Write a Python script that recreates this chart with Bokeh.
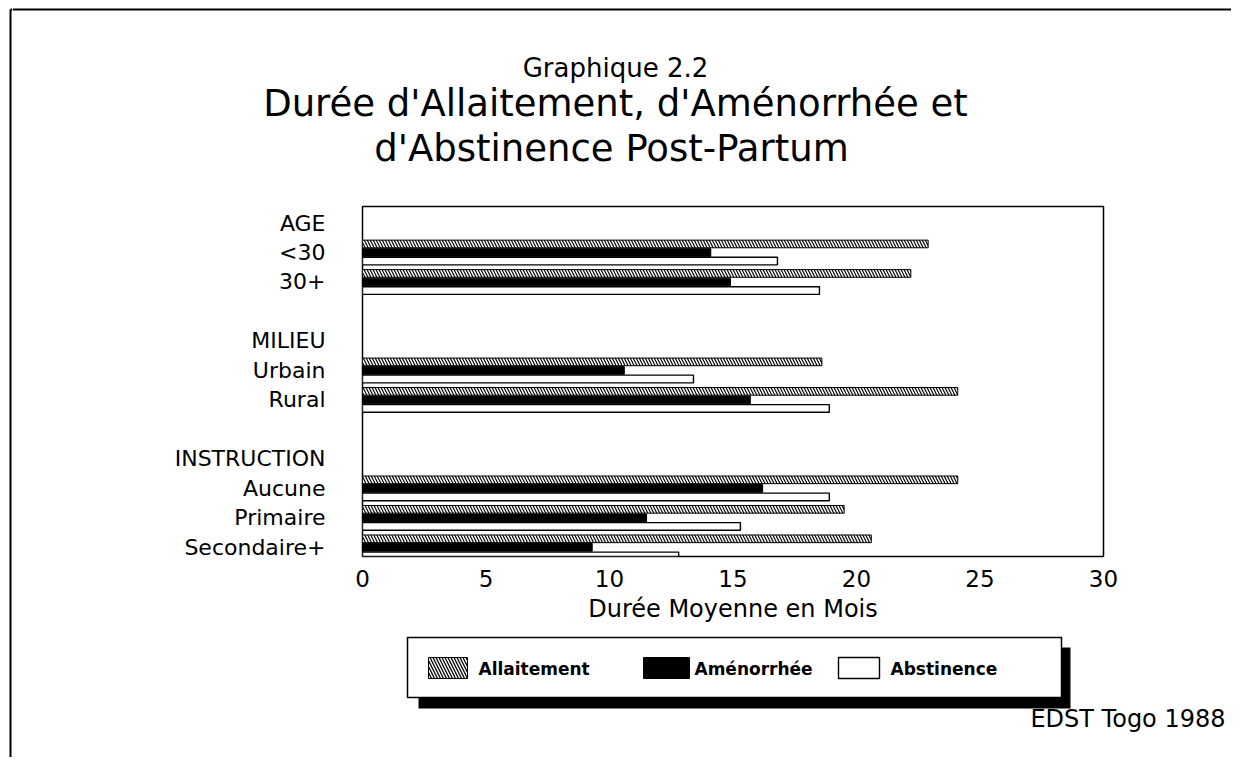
from bokeh.plotting import figure
from bokeh.models import ColumnDataSource, Range1d, FixedTicker, Plot
from bokeh.layouts import row, column
from bokeh.core.properties import value
from bokeh.embed import file_html
from bokeh.resources import INLINE

# ---- data ----
group_labels = ["AGE", "MILIEU", "INSTRUCTION"]
group_slots = [0, 4, 8]
categories = ["<30", "30+", "Urbain", "Rural", "Aucune", "Primaire", "Secondaire+"]
cat_slots = [1, 2, 5, 6, 9, 10, 11]
allaitement = [22.9, 22.2, 18.6, 24.1, 24.1, 19.5, 20.6]
amenorrhee = [14.1, 14.9, 10.6, 15.7, 16.2, 11.5, 9.3]
abstinence = [16.8, 18.5, 13.4, 18.9, 18.9, 15.3, 12.8]
series_names = ["Allaitement", "Aménorrhée", "Abstinence"]
x_ticks = [0, 5, 10, 15, 20, 25, 30]
title_lines = ["Graphique 2.2", "Durée d'Allaitement, d'Aménorrhée et", "d'Abstinence Post-Partum"]
source_note = "EDST Togo 1988"

FONT = "DejaVu Sans"
TOTAL_W, TOTAL_H = 1231, 757
STRIP_W = 12
CW = TOTAL_W - STRIP_W          # width of the column figures
T_H = 200                       # top (title) figure height
M_H = 430                       # main figure height
B_H = TOTAL_H - T_H - M_H       # bottom (legend) figure height
HAS_FA = "frame_align" in Plot.properties()


def noalign(f):
    if HAS_FA:
        f.frame_align = False
    return f


def blank_fig(w, h):
    f = figure(width=w, height=h, x_range=Range1d(0, w), y_range=Range1d(h, 0),
               x_axis_type=None, y_axis_type=None, min_border=0,
               output_backend="svg", toolbar_location=None)
    f.outline_line_color = None
    f.background_fill_color = "white"
    f.border_fill_color = "white"
    return noalign(f)


# ---- left strip with the outer border line ----
strip = blank_fig(STRIP_W, TOTAL_H)
strip.segment(x0=[10, 10], y0=[9, 9], x1=[10, STRIP_W], y1=[TOTAL_H, 9],
              line_color="black", line_width=2)

# ---- top: outer border + titles ----
top = blank_fig(CW, T_H)
top.segment(x0=[0], y0=[9], x1=[CW + 5], y1=[9], line_color="black", line_width=2)
top.text(x=[603], y=[67], text=[title_lines[0]], text_font=value(FONT),
         text_font_size="26px", text_align="center", text_baseline="middle", text_color="black")
top.text(x=[603, 599], y=[103, 148], text=title_lines[1:], text_font=value(FONT),
         text_font_size="37px", text_align="center", text_baseline="middle", text_color="black")

# ---- main chart ----
p = figure(width=CW, height=M_H, x_range=Range1d(0, 30), y_range=Range1d(-11.31, 0.56),
           output_backend="svg", toolbar_location=None,
           min_border_left=350, min_border_right=128, min_border_top=6, min_border_bottom=74)
noalign(p)
p.background_fill_color = "white"
p.border_fill_color = "white"
p.outline_line_color = "black"
p.outline_line_width = 1.5
p.xgrid.visible = False
p.ygrid.visible = False

off, hgt = 0.29, 0.26
src = ColumnDataSource(dict(
    ya=[-s + off for s in cat_slots],
    yb=[-s for s in cat_slots],
    yc=[-s - off for s in cat_slots],
    allaitement=allaitement, amenorrhee=amenorrhee, abstinence=abstinence))

p.hbar(y="ya", left=0, right="allaitement", height=hgt, source=src,
       fill_color="white", line_color="black", line_width=1,
       hatch_pattern="\\", hatch_color="black", hatch_scale=6, hatch_weight=1.2)
p.hbar(y="yb", left=0, right="amenorrhee", height=hgt, source=src,
       fill_color="black", line_color="black", line_width=1)
p.hbar(y="yc", left=0, right="abstinence", height=hgt, source=src,
       fill_color="white", line_color="black", line_width=1.4)

yax = p.yaxis[0]
tick_slots = group_slots + cat_slots
tick_names = group_labels + categories
yax.ticker = FixedTicker(ticks=[-s for s in tick_slots])
yax.major_label_overrides = {-s: n for s, n in zip(tick_slots, tick_names)}
yax.axis_line_color = None
yax.major_tick_line_color = None
yax.minor_tick_line_color = None
yax.major_label_standoff = 31
yax.major_label_text_font = FONT
yax.major_label_text_font_size = "22px"
yax.major_label_text_color = "black"

xax = p.xaxis[0]
xax.ticker = FixedTicker(ticks=x_ticks)
xax.axis_line_color = None
xax.major_tick_line_color = None
xax.minor_tick_line_color = None
xax.major_label_standoff = 7
xax.major_label_text_font = FONT
xax.major_label_text_font_size = "23px"
xax.major_label_text_color = "black"
xax.axis_label = "Durée Moyenne en Mois"
xax.axis_label_text_font = FONT
xax.axis_label_text_font_size = "24px"
xax.axis_label_text_font_style = "normal"
xax.axis_label_standoff = 5
xax.axis_label_text_color = "black"

# ---- bottom: legend with drop shadow + source note ----
bot = blank_fig(CW, B_H)
bot.quad(left=[406], right=[1058], top=[17], bottom=[78], fill_color="black", line_color=None)
bot.quad(left=[395], right=[1049], top=[7], bottom=[67], fill_color="white",
         line_color="black", line_width=1.5)
sw_left = [416, 631, 826]
sw_right = [455, 677, 867]
txt_x = [466, 682, 878]
bot.quad(left=[sw_left[0]], right=[sw_right[0]], top=[27], bottom=[48], fill_color="white",
         line_color="black", line_width=1, hatch_pattern="\\", hatch_color="black",
         hatch_scale=6, hatch_weight=1.3)
bot.quad(left=[sw_left[1]], right=[sw_right[1]], top=[27], bottom=[48], fill_color="black",
         line_color="black", line_width=1)
bot.quad(left=[sw_left[2]], right=[sw_right[2]], top=[27], bottom=[48], fill_color="white",
         line_color="black", line_width=1.4)
bot.text(x=txt_x, y=[38, 38, 38], text=series_names, text_font=value(FONT),
         text_font_size="17px", text_font_style="bold", text_align="left",
         text_baseline="middle", text_color="black")
bot.text(x=[1213], y=[88], text=[source_note], text_font=value(FONT),
         text_font_size="24px", text_align="right", text_baseline="middle", text_color="black")

layout = row(strip, column(top, p, bot))
open("out.html", "w").write(file_html(layout, INLINE))
